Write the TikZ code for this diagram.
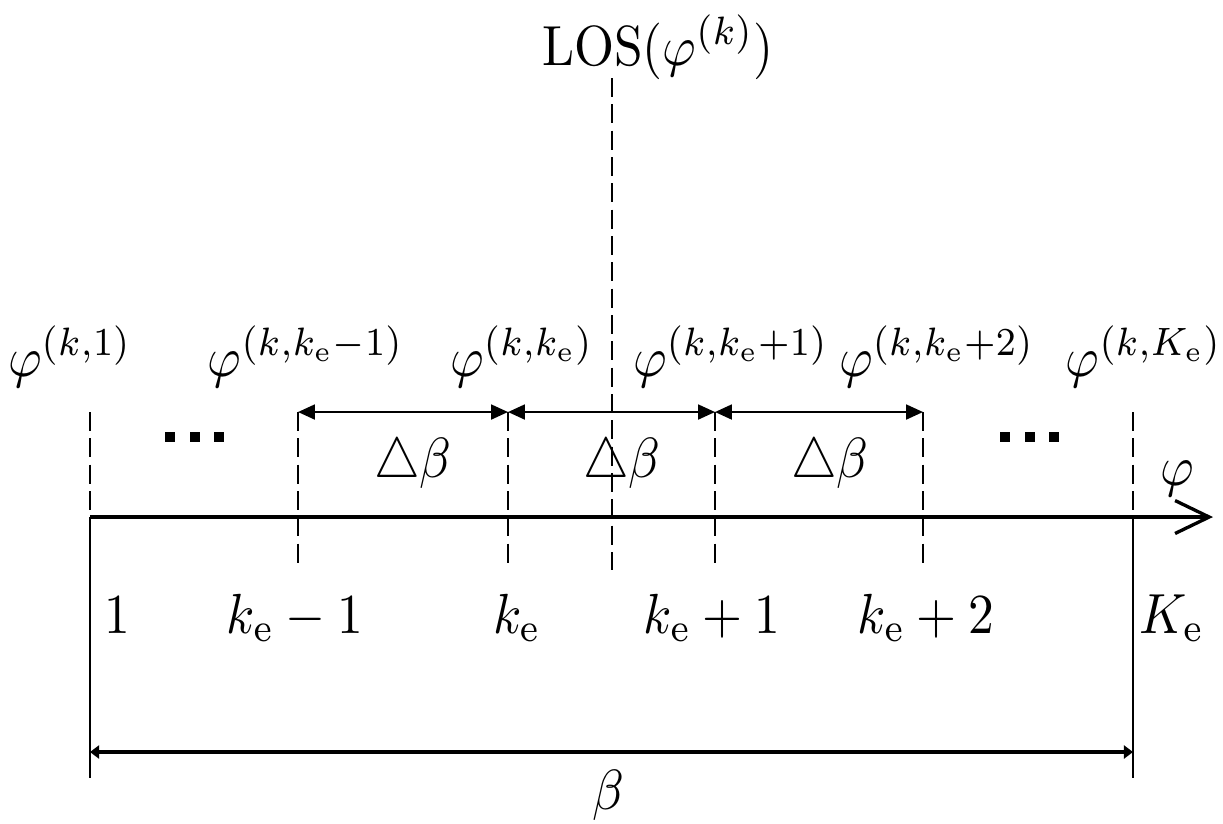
\documentclass[tikz,border=0pt]{standalone}
\usetikzlibrary{arrows.meta}
\newcommand{\vstretch}[1]{\scalebox{1}[1.1]{#1}}
\begin{document}
\begin{tikzpicture}[x=0.00683cm,y=-0.00683cm,
  lbl/.style={font=\normalsize, inner sep=0pt, anchor=base},
  tickline/.style={line width=0.39pt, dash pattern=on 0.129cm off 0.051cm},
  solidline/.style={line width=0.33pt},
  dimarrow/.style={line width=0.43pt, {Triangle[length=0.116cm,width=0.102cm]}-{Triangle[length=0.116cm,width=0.102cm]}},
  spanarrow/.style={line width=0.6pt, {Triangle[length=0.062cm,width=0.089cm]}-{Triangle[length=0.062cm,width=0.089cm]}},
  axisline/.style={line width=0.65pt, -{Straight Barb[length=0.233cm,width=0.225cm,line width=0.65pt]}},
  dotsq/.style={fill=black}]
\useasboundingbox (0,0) rectangle (1223,823);

% coordinates
\foreach \n/\x in {1/90,2/298,3/508,4/715,5/923,6/1133}{
  \coordinate (t\n) at (\x,412);
  \coordinate (m\n) at (\x,517);
  \coordinate (d\n) at (\x,565);
  \coordinate (r\n) at (\x,752);
  \coordinate (b\n) at (\x,778);
}
\coordinate (axend) at (1213,517);
\coordinate (lostop) at (612,78);
\coordinate (losbot) at (612,570);

% axis
\draw[axisline] (m1) -- (axend);

% end lines
\draw[tickline] (t1) -- (m1);
\draw[solidline] (m1) -- (b1);
\draw[tickline] (t6) -- (m6);
\draw[solidline] (m6) -- (b6);

% inner dashed ticks
\foreach \n in {2,3,4,5}{
  \draw[tickline] (t\n) -- (d\n);
}
% LOS line
\draw[tickline] (lostop) -- (losbot);

% delta beta arrows
\draw[dimarrow] (t2) -- (t3);
\draw[dimarrow] (t3) -- (t4);
\draw[dimarrow] (t4) -- (t5);

% beta arrow
\draw[spanarrow] (r1) -- (r6);

% dots
\foreach \x in {165,190,214,1000,1025,1049}{
  \fill[dotsq] (\x,432) rectangle +(10,10);
}

% labels
\node[lbl] (los) at (658,65) {\vstretch{LOS$(\varphi^{(k)})$}};
\node[lbl] (p1) at (70,376) {\vstretch{$\varphi^{(k,1)}$}};
\node[lbl] (p2) at (306,376) {\vstretch{$\varphi^{(k,k_\mathrm{e}-1)}$}};
\node[lbl] (p3) at (522,376) {\vstretch{$\varphi^{(k,k_\mathrm{e})}$}};
\node[lbl] (p4) at (731,376) {\vstretch{$\varphi^{(k,k_\mathrm{e}+1)}$}};
\node[lbl] (p5) at (937,376) {\vstretch{$\varphi^{(k,k_\mathrm{e}+2)}$}};
\node[lbl] (p6) at (1144,376) {\vstretch{$\varphi^{(k,K_\mathrm{e})}$}};

\node[lbl] (db1) at (413,477) {\vstretch{$\triangle\beta$}};
\node[lbl] (db2) at (622,477) {\vstretch{$\triangle\beta$}};
\node[lbl] (db3) at (830,477) {\vstretch{$\triangle\beta$}};

\node[lbl] (phiax) at (1177,485) {\vstretch{$\varphi$}};

\node[lbl] (n1) at (117,633) {\vstretch{$1$}};
\node[lbl] (n2) at (295,633) {\vstretch{$k_\mathrm{e}-1$}};
\node[lbl] (n3) at (517,633) {\vstretch{$k_\mathrm{e}$}};
\node[lbl] (n4) at (712,633) {\vstretch{$k_\mathrm{e}+1$}};
\node[lbl] (n5) at (926,633) {\vstretch{$k_\mathrm{e}+2$}};
\node[lbl] (n6) at (1172,633) {\vstretch{$K_\mathrm{e}$}};

\node[lbl] (beta) at (608,809) {\vstretch{$\beta$}};
\end{tikzpicture}
\end{document}
